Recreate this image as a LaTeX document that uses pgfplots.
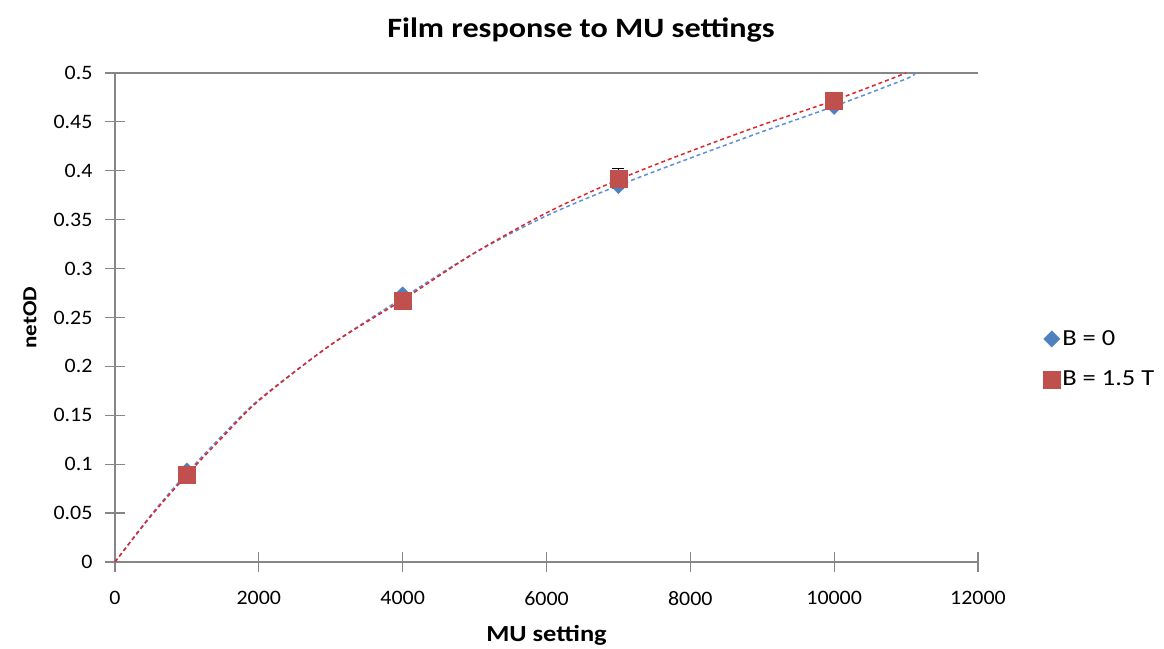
\documentclass[border=0pt]{standalone}
\usepackage{pgfplots}
\pgfplotsset{compat=1.18}
\usepackage{fontspec}
\setmainfont{Carlito}[FakeStretch=1.15]
\newfontfamily\tickfont{Carlito}[FakeStretch=1.07]
\definecolor{mblue}{HTML}{4F81BD}
\definecolor{mred}{HTML}{C0504D}
\definecolor{lblue}{HTML}{5B8FD6}
\definecolor{lred}{HTML}{E0262B}
\definecolor{axgray}{HTML}{868686}
\begin{document}
\begin{tikzpicture}
\begin{axis}[
  scale only axis,
  width=863bp, height=489bp,
  xmin=0, xmax=12000, ymin=0, ymax=0.5,
  axis lines=left,
  axis line style={axgray, line width=1.2bp, -},
  xtick={0,2000,...,12000},
  ytick={0,0.05,...,0.5},
  yticklabels={0,0.05,0.1,0.15,0.2,0.25,0.3,0.35,0.4,0.45,0.5},
  xticklabels={0,2000,4000,6000,8000,10000,12000},
  scaled x ticks=false, scaled y ticks=false,
  tick align=center,
  major tick length=20bp,
  tick style={axgray, line width=1.2bp},
  ticklabel style={font=\tickfont\fontsize{20.5bp}{24bp}\selectfont, text=black},
  /pgf/number format/assume math mode=true,
  xticklabel style={yshift=-16bp},
  yticklabel style={xshift=-9bp},
  clip=false,
  title={\textbf{Film response to MU settings}},
  title style={font=\fontsize{28bp}{32bp}\selectfont, at={([yshift=37bp]axis description cs:0.54,1)}, anchor=center},
  xlabel={\textbf{MU setting}},
  xlabel style={font=\fontsize{23bp}{27bp}\selectfont, at={([yshift=-73bp]axis description cs:0.5,0)}, anchor=center},
  ylabel={\textbf{netOD}},
  ylabel style={font=\fontsize{20bp}{24bp}\selectfont, at={([xshift=-85bp]axis description cs:0,0.5)}, anchor=center},
  legend style={draw=none, fill=none, at={(axis description cs:1.072,0.415)}, anchor=west,
    font=\fontsize{23bp}{27bp}\selectfont, row sep=20bp,
    /tikz/every even column/.append style={column sep=2bp}},
  legend cell align=left,
]
% invisible bounding frame
\path ([shift={(-115bp,-85bp)}]rel axis cs:0,0) rectangle ([shift={(186bp,73bp)}]rel axis cs:1,1);
\draw[axgray, line width=1.2bp] (rel axis cs:0,1) -- (rel axis cs:1,1);

\addplot[only marks, mark=square*, mark size=5.8bp, mark options={rotate=45, fill=mblue, draw=mblue}]
  coordinates {(1000,0.093) (4000,0.273) (7000,0.385) (10000,0.466)};
\addlegendentry{B = 0}

\addplot[only marks, mark=square*, mark size=8.5bp, mark options={fill=mred, draw=mred},
  error bars/.cd, y dir=both, y explicit, error mark options={rotate=90, mark size=6bp, black, line width=1.2bp},
  error bar style={black, line width=1.2bp}]
  coordinates {(1000,0.089) +- (0,0.004) (4000,0.267) +- (0,0.005) (7000,0.392) +- (0,0.010) (10000,0.472) +- (0,0.005)};
\addlegendentry{B = 1.5 T}

\addplot[forget plot, lblue, line width=1.5bp, dash pattern=on 4bp off 3bp, smooth] coordinates {
 (0,0) (500,0.048) (1000,0.091) (1500,0.130) (2000,0.166) (3000,0.222) (4000,0.270) (5000,0.316)
 (6000,0.354) (7000,0.385) (8000,0.413) (9000,0.440) (10000,0.466) (11000,0.494) (11120,0.5)};
\addplot[forget plot, lred, line width=1.5bp, dash pattern=on 4bp off 3bp, smooth] coordinates {
 (0,0) (500,0.047) (1000,0.089) (1500,0.128) (2000,0.165) (3000,0.222) (4000,0.268) (5000,0.316)
 (6000,0.357) (7000,0.391) (8000,0.420) (9000,0.447) (10000,0.472) (11000,0.500)};
\end{axis}
\end{tikzpicture}
\end{document}
